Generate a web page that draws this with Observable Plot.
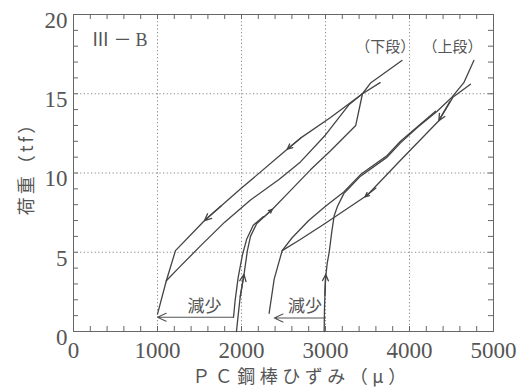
<!DOCTYPE html>
<html><head><meta charset="utf-8">
<script src="https://cdn.jsdelivr.net/npm/d3@7"></script>
<script src="https://cdn.jsdelivr.net/npm/@observablehq/plot@0.6"></script>
<style>body{margin:0;background:#fff}</style>
</head><body><div id="chart"></div>
<script>
// ---- axes ----
const xMajor = [0, 1000, 2000, 3000, 4000, 5000];
const yMajor = [0, 5, 10, 15, 20];
const xMinor = [0,200,400,600,800,1000,1200,1400,1600,1800,2000,2200,2400,2600,2800,3000,3200,3400,3600,3800,4000,4200,4400,4600,4800,5000];
const yMinor = [1,2,3,4,5,6,7,8,9,10,11,12,13,14,15,16,17,18,19];
const xLabel = "ＰＣ鋼棒ひずみ（μ）";
const yLabel = "荷重（tf）";

// ---- 下段 (lower stage) ----
const lowLoadX   = [1940,1960,1985,2030,2070,2107,2180,2262,2365,2548,2821,3060,3360,3440,3540,3910];
const lowLoadY   = [0,1.0,2.2,3.6,5.1,6.0,6.8,7.2,7.7,8.7,10.2,11.4,13.0,15.0,15.7,17.1];
const lowLoad2X  = [1905,1925,1960,2010,2060,2140,2262];
const lowLoad2Y  = [0.9,2.0,3.4,4.8,5.8,6.7,7.25];
const lowUnloadX = [3650,3440,3060,2702,2544,1990,1560,1214,1105,1000];
const lowUnloadY = [15.7,15.0,13.5,12.2,11.5,9.0,7.0,5.1,3.2,1.1];
const lowReloadX = [1105,1250,1512,1800,2107,2450,2702,3000,3278,3440];
const lowReloadY = [3.2,4.0,5.4,6.9,8.3,9.6,10.7,12.4,14.3,15.0];

// ---- 上段 (upper stage) ----
const upLoadX   = [2984,2988,3000,3020,3044,3075,3103,3143,3218,3417,3734,3893,4100,4329,4508,4647,4766];
const upLoadY   = [0,1.5,3.3,4.3,5.0,6.3,7.3,7.9,8.7,9.8,11.0,11.9,12.9,13.9,14.8,15.7,17.1];
const upUnloadX = [4726,4520,4349,3893,3496,2990,2700,2484,2389,2329];
const upUnloadY = [15.6,14.8,13.3,10.8,8.6,6.8,5.8,5.1,3.3,1.15];
const upReloadX = [2484,2600,2800,3000,3218,3417,3734,3893,4310];
const upReloadY = [5.1,5.9,7.0,7.9,8.8,9.9,11.1,12.0,13.9];

// ---- direction arrows (tail -> tip) ----
const arrTailX = [2702,1760,1985,2262,2992,4480,3600];
const arrTailY = [12.2,7.93,2.2,7.2,2.3,14.5,9.05];
const arrTipX  = [2544,1560,2030,2365,3003,4349,3470];
const arrTipY  = [11.5,7.0,3.6,7.7,3.6,13.3,8.5];

// ---- 減少 arrows ----
const decTailX = [1905,3000];
const decTipX  = [1000,2390];
const decY     = [0.9,0.85];
const decText  = ["減少","減少"];
const decTextX = [1560,2756];
const decTextY = [1.6,1.6];

// ---- labels ----
const stageText = ["（下段）","（上段）"];
const stageX = [3710,4512];
const stageY = [17.95,17.95];
const panelText = ["Ⅲ－B"];
const panelX = [214];
const panelY = [18.35];

const pts = (xs, ys, s) => xs.map((x, i) => ({x, y: ys[i], s}));
const curves = [
  ...pts(lowLoadX, lowLoadY, "lowLoad"),
  ...pts(lowLoad2X, lowLoad2Y, "lowLoad2"),
  ...pts(lowUnloadX, lowUnloadY, "lowUnload"),
  ...pts(lowReloadX, lowReloadY, "lowReload"),
  ...pts(upLoadX, upLoadY, "upLoad"),
  ...pts(upUnloadX, upUnloadY, "upUnload"),
  ...pts(upReloadX, upReloadY, "upReload")
];
const arrows = arrTipX.map((x, i) => ({x1: arrTailX[i], y1: arrTailY[i], x2: x, y2: arrTipY[i]}));
const decArrows = decTipX.map((x, i) => ({x1: decTailX[i], x2: x, y: decY[i]}));
const decLabels = decText.map((t, i) => ({t, x: decTextX[i], y: decTextY[i]}));
const stageLabels = stageText.map((t, i) => ({t, x: stageX[i], y: stageY[i]}));
const panelLabels = panelText.map((t, i) => ({t, x: panelX[i], y: panelY[i]}));

const ink = "#444";
const textCol = "#555";
const jp = "Noto Sans CJK JP";

const chart = Plot.plot({
  width: 524, height: 392,
  marginLeft: 73, marginRight: 31, marginTop: 14, marginBottom: 61,
  x: {domain: [0, 5000]},
  y: {domain: [0, 20]},
  style: {fontFamily: "Liberation Serif", background: "#fff", color: textCol},
  marks: [
    Plot.gridX(xMajor, {stroke: "#888", strokeOpacity: 1, strokeDasharray: "1.2,2.4"}),
    Plot.gridY(yMajor, {stroke: "#888", strokeOpacity: 1, strokeDasharray: "1.2,2.4"}),
    Plot.tickX(xMinor, {x: d => d, stroke: "#666", insetTop: 312}),
    Plot.tickX(xMinor, {x: d => d, stroke: "#666", insetBottom: 312}),
    Plot.tickY(yMinor, {y: d => d, stroke: "#666", insetRight: 415}),
    Plot.tickY(yMinor, {y: d => d, stroke: "#666", insetLeft: 415}),
    Plot.frame({stroke: "#666"}),
    Plot.axisX(xMajor, {tickSize: 0, tickPadding: 10, fontSize: 23, label: null, fill: textCol, tickFormat: d => String(d)}),
    Plot.axisY(yMajor, {tickSize: 0, tickPadding: 6, fontSize: 23, dy: 6, label: null, fill: textCol, tickFormat: d => String(d)}),
    Plot.line(curves, {x: "x", y: "y", z: "s", stroke: ink, strokeWidth: 1.3}),
    Plot.arrow(arrows, {x1: "x1", y1: "y1", x2: "x2", y2: "y2", stroke: ink, strokeWidth: 1.3, headLength: 13, headAngle: 50}),
    Plot.arrow(decArrows, {x1: "x1", y1: "y", x2: "x2", y2: "y", stroke: "#555", strokeWidth: 1.1, headLength: 13, headAngle: 50}),
    Plot.text(decLabels, {x: "x", y: "y", text: "t", fontFamily: jp, fontSize: 17, fill: textCol}),
    Plot.text(stageLabels, {x: "x", y: "y", text: "t", fontFamily: jp, fontSize: 15, fill: textCol}),
    Plot.text(panelLabels, {x: "x", y: "y", text: "t", textAnchor: "start", fontFamily: "Liberation Serif, " + jp, fontSize: 18, fill: textCol}),
    Plot.text([xLabel], {frameAnchor: "bottom", textAnchor: "middle", lineAnchor: "middle", dx: 18, dy: 46, fontFamily: jp, fontSize: 18, fill: textCol}),
    Plot.text([yLabel], {frameAnchor: "left", textAnchor: "middle", lineAnchor: "middle", dx: -46, dy: -9, rotate: -90, fontFamily: jp, fontSize: 18, fill: textCol})
  ]
});
d3.select(chart).selectAll("text").each(function() {
  const t = this.textContent;
  if (t === xLabel) this.setAttribute("letter-spacing", "4.5");
  if (t === yLabel) this.setAttribute("letter-spacing", "3");
  if (t === panelText[0]) this.setAttribute("letter-spacing", "4");
});
document.getElementById("chart").append(chart);
</script>
</body></html>
